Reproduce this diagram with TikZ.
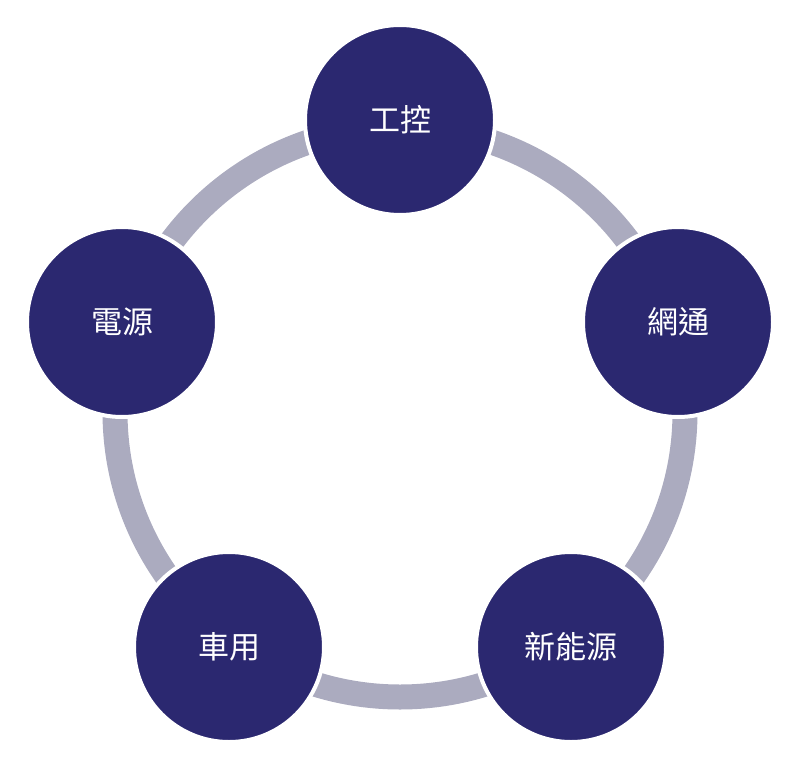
\documentclass[tikz,border=0pt]{standalone}
\usepackage{fontspec}
\newfontfamily\cjk{Noto Sans CJK TC}
\definecolor{navy}{HTML}{2B2870}
\definecolor{ringgray}{HTML}{ABABBF}

\begin{document}
\begin{tikzpicture}[x=1pt, y=-1pt,
    bubble/.style={circle, fill=navy, draw=white, line width=4pt,
        minimum size=190pt, inner sep=0pt, text=white,
        font=\cjk\fontsize{31}{31}\selectfont}]

                \useasboundingbox (0,0) rectangle (800,770);

                % Ring
                \coordinate (hub) at (400,412);
                \draw[ringgray, line width=25pt] (hub) circle[radius=285];

                % Circles
                \node[bubble] (gongkong) at (400,120) {工控};
                \node[bubble] (wangtong) at (678,322) {網通};
                \node[bubble] (xinnengyuan) at (571,647) {新能源};
                \node[bubble] (cheyong) at (229,647) {車用};
                \node[bubble] (dianyuan) at (122,322) {電源};

\end{tikzpicture}
\end{document}
